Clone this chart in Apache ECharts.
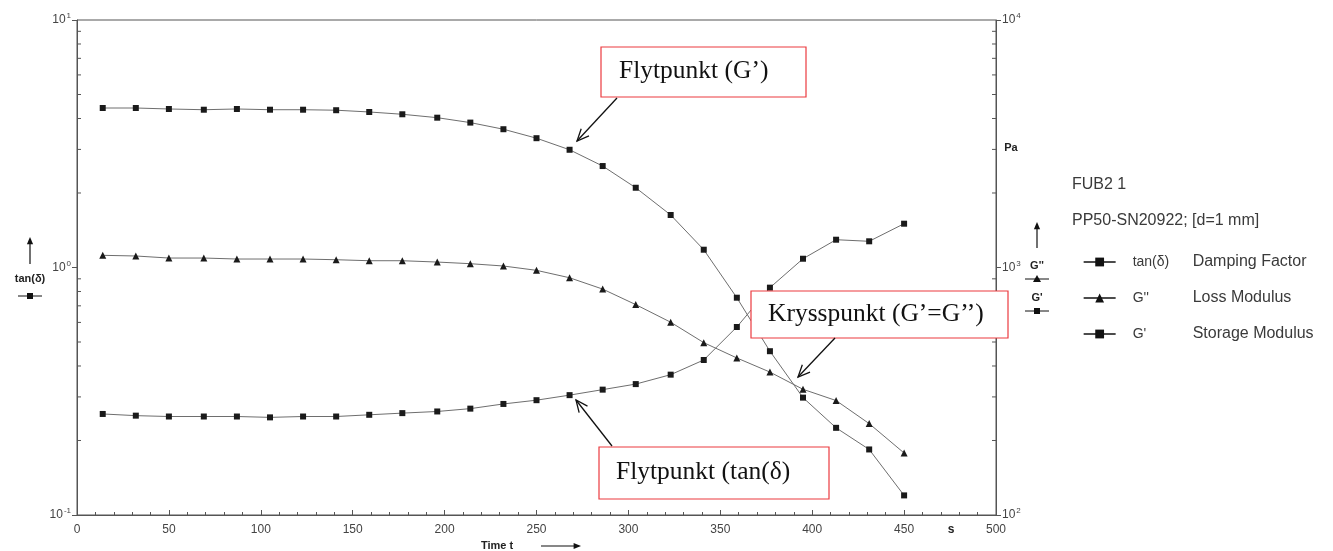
<!DOCTYPE html>
<html>
<head>
<meta charset="utf-8">
<script src="https://cdn.jsdelivr.net/npm/echarts@6/dist/echarts.min.js"></script>
<style>
  html, body { margin: 0; background: #fff; }
  #chart { width: 1333px; height: 551px; }
</style>
</head>
<body>
<div id="chart"></div>
<script>
// time in s
const times = [14, 32, 50, 69, 87, 105, 123, 141, 159, 177, 196, 214, 232, 250, 268, 286, 304, 323, 341, 359, 377, 395, 413, 431, 450];
// damping factor tan(δ), left axis
const tanDelta = [0.256, 0.252, 0.250, 0.250, 0.250, 0.248, 0.250, 0.250, 0.254, 0.258, 0.262, 0.269, 0.281, 0.291, 0.305, 0.321, 0.338, 0.369, 0.423, 0.575, 0.829, 1.085, 1.295, 1.276, 1.503];
// loss modulus G'' in Pa, right axis
const lossModulus = [1120, 1113, 1092, 1092, 1082, 1082, 1082, 1075, 1065, 1065, 1052, 1036, 1014, 974, 909, 818, 708, 601, 497, 431, 378, 322, 290, 234, 178];
// storage modulus G' in Pa, right axis
const storageModulus = [4410, 4410, 4370, 4340, 4370, 4340, 4340, 4320, 4250, 4160, 4030, 3850, 3620, 3330, 2990, 2570, 2100, 1630, 1180, 755, 459, 298, 225, 184, 120];

const seriesNames = ['tan(δ)', "G''", "G'"];
const seriesNotes = ['Damping Factor', 'Loss Modulus', 'Storage Modulus'];
const tanMinorTicks = [0.2, 0.3, 0.4, 0.5, 0.6, 0.7, 0.8, 0.9, 2, 3, 4, 5, 6, 7, 8, 9];
const paMinorTicks = [200, 300, 400, 500, 600, 700, 800, 900, 2000, 3000, 4000, 5000, 6000, 7000, 8000, 9000];

const SANS = '"Liberation Sans", Arial, sans-serif';
const SERIF = '"Liberation Serif", "Times New Roman", serif';
const INK = '#111';

const chart = echarts.init(document.getElementById('chart'));

const pow10 = v => '{b|10}{s|' + Math.round(Math.log10(v)) + '}';
const powRich = {
  b: { fontSize: 12, fontFamily: SANS, color: '#444', lineHeight: 16 },
  s: { fontSize: 8, fontFamily: SANS, color: '#444', lineHeight: 6, verticalAlign: 'top', padding: [0, 0, 0, 1] }
};

function openArrow(x1, y1, x2, y2) {
  const a = Math.atan2(y1 - y2, x1 - x2), h = 13, s = 0.42;
  return [
    { type: 'line', z: 120, shape: { x1, y1, x2, y2 }, style: { stroke: INK, lineWidth: 1.3 } },
    { type: 'polyline', z: 120, shape: { points: [
      [x2 + h * Math.cos(a + s), y2 + h * Math.sin(a + s)], [x2, y2],
      [x2 + h * Math.cos(a - s), y2 + h * Math.sin(a - s)]] },
      style: { stroke: INK, lineWidth: 1.3, fill: null } }
  ];
}

function solidArrow(x1, y1, x2, y2) {
  const a = Math.atan2(y1 - y2, x1 - x2), h = 8, s = 0.4;
  return [
    { type: 'line', shape: { x1, y1, x2: x2 + 4 * Math.cos(a), y2: y2 + 4 * Math.sin(a) }, style: { stroke: INK, lineWidth: 1.2 } },
    { type: 'polygon', shape: { points: [[x2, y2],
      [x2 + h * Math.cos(a + s), y2 + h * Math.sin(a + s)],
      [x2 + h * Math.cos(a - s), y2 + h * Math.sin(a - s)]] }, style: { fill: INK } }
  ];
}

function noteBox(x, y, w, h, text, tx, ty) {
  return [
    { type: 'rect', z: 110, shape: { x, y, width: w, height: h }, style: { fill: '#fff', stroke: '#ec3a3f', lineWidth: 1.2 } },
    { type: 'text', z: 111, x: tx, y: ty, style: { text, fontSize: 25.5, fontFamily: SERIF, fill: INK, align: 'left', verticalAlign: 'middle' } }
  ];
}

function label(text, x, y, size, bold, align) {
  return { type: 'text', x, y, style: { text, fontSize: size, fontFamily: SANS, fontWeight: bold ? 'bold' : 'normal',
    fill: bold ? '#222' : '#3a3a3a', align: align || 'center', verticalAlign: 'middle' } };
}

function keySymbol(cx, cy, shape) {
  const els = [{ type: 'line', shape: { x1: cx - 12, y1: cy, x2: cx + 12, y2: cy }, style: { stroke: INK, lineWidth: 1 } }];
  if (shape === 'rect') {
    els.push({ type: 'rect', shape: { x: cx - 3, y: cy - 3, width: 6, height: 6 }, style: { fill: INK } });
  } else {
    els.push({ type: 'polygon', shape: { points: [[cx, cy - 4], [cx - 4, cy + 3], [cx + 4, cy + 3]] }, style: { fill: INK } });
  }
  return els;
}

function minorTickSeries(values, yAxisIndex, xAt, dir) {
  return {
    type: 'custom', xAxisIndex: 0, yAxisIndex, silent: true, z: 5,
    data: values.map(v => [xAt, v]),
    renderItem: (params, api) => {
      const p = api.coord([api.value(0), api.value(1)]);
      return { type: 'line', shape: { x1: p[0], y1: p[1], x2: p[0] + dir * 4, y2: p[1] }, style: { stroke: '#555', lineWidth: 1 } };
    }
  };
}

const lineStyle = { color: '#6e6e6e', width: 1 };
const itemStyle = { color: '#1a1a1a' };

const option = {
  animation: false,
  backgroundColor: '#fff',
  grid: { left: 77, right: 337, top: 20, bottom: 36, show: true, borderColor: '#555', borderWidth: 1, backgroundColor: 'transparent' },
  xAxis: {
    type: 'value', min: 0, max: 500, interval: 50,
    axisLine: { show: true, lineStyle: { color: '#555' } },
    axisTick: { show: true, inside: true, length: 5, lineStyle: { color: '#555' } },
    minorTick: { show: true, splitNumber: 5, length: 3, lineStyle: { color: '#555' } },
    splitLine: { show: false },
    axisLabel: { fontSize: 12, fontFamily: SANS, color: '#444', margin: 9, showMinLabel: true, showMaxLabel: true }
  },
  yAxis: [
    {
      type: 'log', logBase: 10, min: 0.1, max: 10, position: 'left',
      axisLine: { show: true, lineStyle: { color: '#555' } },
      axisTick: { show: true, inside: false, length: 5, lineStyle: { color: '#555' } },
      splitLine: { show: false },
      axisLabel: { formatter: pow10, rich: powRich, margin: 6, showMinLabel: true, showMaxLabel: true }
    },
    {
      type: 'log', logBase: 10, min: 100, max: 10000, position: 'right',
      axisLine: { show: true, lineStyle: { color: '#555' } },
      axisTick: { show: true, inside: false, length: 5, lineStyle: { color: '#555' } },
      splitLine: { show: false },
      axisLabel: { formatter: pow10, rich: powRich, margin: 6, showMinLabel: true, showMaxLabel: true }
    }
  ],
  legend: {
    data: seriesNames,
    orient: 'vertical', left: 1078, top: 249,
    itemWidth: 32, itemHeight: 11, itemGap: 20,
    selectedMode: false,
    lineStyle: { color: INK, width: 1.3 },
    itemStyle: { color: INK },
    formatter: name => '{a|' + name + '}{b|' + seriesNotes[seriesNames.indexOf(name)] + '}',
    textStyle: {
      fontSize: 16, fontFamily: SANS, color: '#3a3a3a', lineHeight: 16,
      rich: {
        a: { fontSize: 14, fontFamily: SANS, color: '#3a3a3a', width: 60, padding: [0, 0, 0, 12] },
        b: { fontSize: 16, fontFamily: SANS, color: '#3a3a3a' }
      }
    }
  },
  series: [
    { name: seriesNames[0], type: 'line', yAxisIndex: 0, data: times.map((t, i) => [t, tanDelta[i]]),
      symbol: 'rect', symbolSize: 6, lineStyle, itemStyle, emphasis: { disabled: true }, z: 10 },
    { name: seriesNames[1], type: 'line', yAxisIndex: 1, data: times.map((t, i) => [t, lossModulus[i]]),
      symbol: 'triangle', symbolSize: 7, lineStyle, itemStyle, emphasis: { disabled: true }, z: 10 },
    { name: seriesNames[2], type: 'line', yAxisIndex: 1, data: times.map((t, i) => [t, storageModulus[i]]),
      symbol: 'rect', symbolSize: 6, lineStyle, itemStyle, emphasis: { disabled: true }, z: 10 },
    minorTickSeries(tanMinorTicks, 0, 0, 1),
    minorTickSeries(paMinorTicks, 1, 500, -1)
  ],
  graphic: [
    // left axis key
    ...solidArrow(30, 264, 30, 237),
    label('tan(δ)', 30, 279, 11, true),
    ...keySymbol(30, 296, 'rect'),
    // right axis key
    label('Pa', 1011, 148, 11, true),
    ...solidArrow(1037, 248, 1037, 222),
    label("G''", 1037, 266, 11, true),
    ...keySymbol(1037, 279, 'tri'),
    label("G'", 1037, 298, 11, true),
    ...keySymbol(1037, 311, 'rect'),
    // x axis title and unit
    label('s', 951, 530, 12, true),
    label('Time t', 497, 546, 11, true),
    ...solidArrow(541, 546, 581, 546),
    // legend header
    label('FUB2 1', 1072, 185, 16, false, 'left'),
    label('PP50-SN20922; [d=1 mm]', 1072, 221, 16, false, 'left'),
    // annotations
    ...noteBox(601, 47, 205, 50, 'Flytpunkt (G’)', 619, 71),
    ...openArrow(617, 98, 577, 141),
    ...noteBox(751, 291, 257, 47, 'Krysspunkt (G’=G’’)', 768, 314),
    ...openArrow(835, 338, 798, 377),
    ...noteBox(599, 447, 230, 52, 'Flytpunkt (tan(δ)', 616, 472),
    ...openArrow(612, 446, 576, 400)
  ]
};

chart.setOption(option);
window.addEventListener('resize', () => chart.resize());
</script>
</body>
</html>
